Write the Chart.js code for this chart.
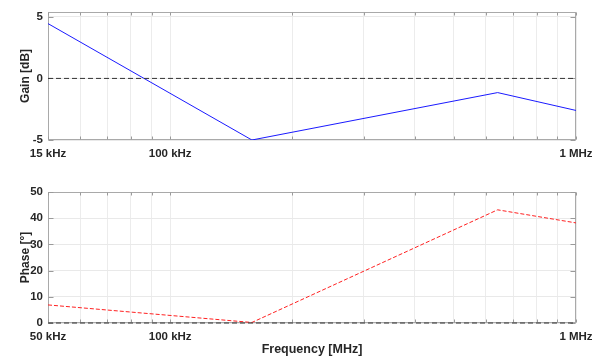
<!DOCTYPE html>
<html>
<head>
<meta charset="utf-8">
<script src="https://cdn.jsdelivr.net/npm/chart.js@4/dist/chart.umd.min.js"></script>
<style>
  html, body { margin: 0; padding: 0; background: #ffffff; }
  #wrap { position: relative; width: 592px; height: 364px; }
  .panel { position: absolute; left: 0; width: 592px; }
  #gainBox { top: 0; height: 168px; }
  #phaseBox { top: 170px; height: 194px; }
</style>
</head>
<body>
<div id="wrap">
  <div class="panel" id="gainBox"><canvas id="gain" width="592" height="168"></canvas></div>
  <div class="panel" id="phaseBox"><canvas id="phase" width="592" height="194"></canvas></div>
</div>
<script>
// Measured response
const frequencyHz = [50e3, 159e3, 641e3, 1e6];
const gainDb      = [4.45, -5.0, -1.15, -2.6];
const phaseDeg    = [6.9, 0.2, 43.2, 38.2];

// Axis labelling
const labeledFreqs     = [50e3, 100e3, 1e6];
const gainTickLabels   = ['15 kHz', '100 kHz', '1 MHz'];
const phaseTickLabels  = ['50 kHz', '100 kHz', '1 MHz'];
const gainYTicks       = [-5, 0, 5];
const phaseYTicks      = [0, 10, 20, 30, 40, 50];

const freqMin = 50e3, freqMax = 1e6;

// Decade grid positions between freqMin and freqMax
const gridFreqs = [];
for (const decade of [1e4, 1e5]) {
  for (let m = 1; m <= 9; m++) {
    const v = m * decade;
    if (v >= freqMin && v <= freqMax) gridFreqs.push(v);
  }
}
gridFreqs.push(1e6);

Chart.defaults.font.family = "'Liberation Sans', Arial, sans-serif";
Chart.defaults.font.weight = 'bold';
Chart.defaults.font.size = 11.5;
Chart.defaults.color = '#262626';

const toPoints = (xs, ys) => xs.map((x, i) => ({ x, y: ys[i] }));

// Axes box with inward tick marks on all four sides
const framePlugin = {
  id: 'frame',
  beforeDatasetsDraw(chart) {
    const { ctx, chartArea: a, scales: { x, y } } = chart;
    const L = Math.round(a.left) + 0.5, R = Math.round(a.right) - 0.5;
    const T = Math.round(a.top) + 0.5, B = Math.round(a.bottom) - 0.5;
    ctx.save();
    ctx.lineWidth = 1;
    ctx.strokeStyle = '#a9a9a9';
    ctx.strokeRect(L, T, R - L, B - T);
    ctx.strokeStyle = '#9a9a9a';
    ctx.beginPath();
    for (const t of x.ticks) {
      const px = Math.round(x.getPixelForValue(t.value)) + 0.5;
      ctx.moveTo(px, B); ctx.lineTo(px, B - 3);
      ctx.moveTo(px, T); ctx.lineTo(px, T + 3);
    }
    for (const t of y.ticks) {
      const py = Math.round(y.getPixelForValue(t.value)) + 0.5;
      ctx.moveTo(L, py); ctx.lineTo(L + 5, py);
      ctx.moveTo(R, py); ctx.lineTo(R - 5, py);
    }
    ctx.stroke();
    ctx.restore();
  }
};

function xAxis(tickLabels, height, withTitle) {
  return {
    type: 'logarithmic',
    min: freqMin,
    max: freqMax,
    afterBuildTicks: s => { s.ticks = gridFreqs.map(v => ({ value: v })); },
    afterFit: s => { s.height = height; s.paddingLeft = 0; s.paddingRight = 0; },
    ticks: {
      autoSkip: false,
      maxRotation: 0,
      padding: 7,
      callback: v => {
        const i = labeledFreqs.indexOf(v);
        return i >= 0 ? tickLabels[i] : '';
      }
    },
    grid: { color: '#ececec', drawTicks: false },
    border: { display: false },
    title: withTitle
      ? { display: true, text: 'Frequency [MHz]', font: { size: 12.5, weight: 'bold' }, color: '#262626', padding: { top: 0, bottom: 7 } }
      : { display: false }
  };
}

function yAxis(min, max, tickValues, titleText) {
  return {
    type: 'linear',
    min, max,
    afterBuildTicks: s => { s.ticks = tickValues.map(v => ({ value: v })); },
    afterFit: s => { s.width = 48; },
    ticks: { padding: 5 },
    grid: { color: '#e9e9e9', drawTicks: false },
    border: { display: false },
    title: { display: true, text: titleText, font: { size: 12, weight: 'bold' }, color: '#262626', padding: { top: 18, bottom: 0 } }
  };
}

function zeroLine() {
  return {
    data: [{ x: freqMin, y: 0 }, { x: freqMax, y: 0 }],
    borderColor: '#333333',
    borderWidth: 1,
    borderDash: [5, 3],
    pointRadius: 0,
    clip: 3,
    order: 0
  };
}

const commonOptions = {
  responsive: false,
  animation: false,
  events: [],
  plugins: { legend: { display: false }, tooltip: { enabled: false } },
  elements: { line: { tension: 0 } }
};

new Chart(document.getElementById('gain'), {
  type: 'line',
  data: {
    datasets: [
      {
        data: toPoints(frequencyHz, gainDb),
        borderColor: '#1a1aff',
        borderWidth: 1,
        pointRadius: 0,
        order: 1
      },
      zeroLine()
    ]
  },
  options: Object.assign({}, commonOptions, {
    layout: { padding: { top: 10, right: 16, bottom: 0, left: 0 } },
    scales: {
      x: xAxis(gainTickLabels, 28, false),
      y: yAxis(-5, 5.4, gainYTicks, 'Gain [dB]')
    }
  }),
  plugins: [framePlugin]
});

new Chart(document.getElementById('phase'), {
  type: 'line',
  data: {
    datasets: [
      {
        data: toPoints(frequencyHz, phaseDeg),
        borderColor: '#ff2020',
        borderWidth: 1,
        borderDash: [4, 2],
        pointRadius: 0,
        order: 1
      },
      zeroLine()
    ]
  },
  options: Object.assign({}, commonOptions, {
    layout: { padding: { top: 22, right: 16, bottom: 0, left: 0 } },
    scales: {
      x: xAxis(phaseTickLabels, 41, true),
      y: yAxis(0, 50, phaseYTicks, 'Phase [°]')
    }
  }),
  plugins: [framePlugin]
});
</script>
</body>
</html>
